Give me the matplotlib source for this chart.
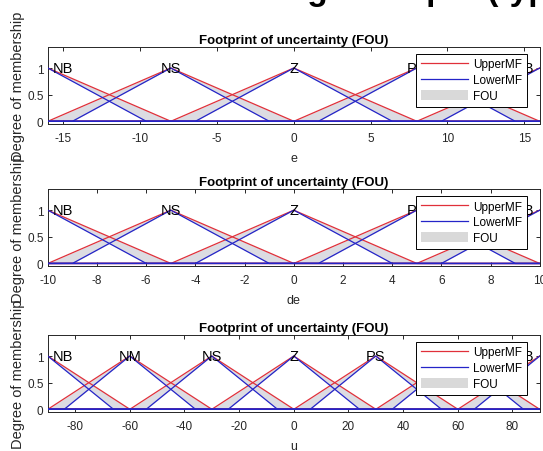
import numpy as np
import matplotlib
matplotlib.use("Agg")
import matplotlib.pyplot as plt
from matplotlib.lines import Line2D
from matplotlib.patches import Patch

plt.rcParams['font.family'] = ['Liberation Sans', 'DejaVu Sans']
plt.rcParams['axes.unicode_minus'] = False

# --- data: interval type-2 triangular MFs (center, upper half-width, lower half-width)
e_centers = [-16, -8, 0, 8, 16]
e_names = ['NB', 'NS', 'Z', 'PS', 'PB']
e_upper_w = 8
e_lower_w = 6.4
e_ticks = [-15, -10, -5, 0, 5, 10, 15]

de_centers = [-10, -5, 0, 5, 10]
de_names = ['NB', 'NS', 'Z', 'PS', 'PB']
de_upper_w = 5
de_lower_w = 4
de_ticks = [-10, -8, -6, -4, -2, 0, 2, 4, 6, 8, 10]

u_centers = [-90, -60, -30, 0, 30, 60, 90]
u_names = ['NB', 'NM', 'NS', 'Z', 'PS', 'PM', 'PB']
u_upper_w = 30
u_lower_w = 24
u_ticks = [-80, -60, -40, -20, 0, 20, 40, 60, 80]

RED = '#e0303a'
BLUE = '#2424c8'
FOU_C = '#dcdce2'
AX_C = '#262626'


def tri(x, c, w):
    return np.interp(x, [c - w, c, c + w], [0, 1, 0])


def draw_panel(ax, centers, names, uw, lw, ticks, xlab):
    xmin, xmax = centers[0], centers[-1]
    span = xmax - xmin
    x = np.linspace(xmin, xmax, 3001)
    for c, name in zip(centers, names):
        up = tri(x, c, uw)
        lo = tri(x, c, lw)
        ax.fill_between(x, lo, up, color=FOU_C, lw=0, zorder=1)
        ax.plot(x, up, color=RED, lw=0.9, zorder=2)
        ax.plot(x, lo, color=BLUE, lw=0.9, zorder=3)
        # edge labels are pulled a little inside the axes
        tx = c
        if c == xmin:
            tx = c + 0.03 * span
        elif c == xmax:
            tx = c - 0.03 * span
        ax.text(tx, 1.0, name, ha='center', va='center', fontsize=10.5,
                clip_on=True, zorder=3.5)
    ax.set_xlim(xmin, xmax)
    ax.set_ylim(-0.05, 1.4)
    ax.set_xticks(ticks)
    ax.set_yticks([0, 0.5, 1])
    ax.set_yticklabels(['0', '0.5', '1'])
    ax.tick_params(direction='in', top=True, right=True, length=3,
                   width=0.7, labelsize=8.5, colors=AX_C)
    ax.tick_params(axis='x', pad=6)
    ax.tick_params(axis='y', pad=3)
    for s in ax.spines.values():
        s.set_linewidth(0.7)
        s.set_color(AX_C)
    ax.set_xlabel(xlab, fontsize=9, labelpad=5.5, color=AX_C)
    ax.set_ylabel('Degree of membership', fontsize=10.5, color=AX_C)
    ax.yaxis.set_label_coords(-0.047, 0.5)
    ax.set_title('Footprint of uncertainty (FOU)', fontsize=9.5,
                 fontweight='bold', pad=2.5)
    handles = [Line2D([], [], color=RED, lw=0.9),
               Line2D([], [], color=BLUE, lw=0.9),
               Patch(facecolor='#d9d9d9', edgecolor='none')]
    leg = ax.legend(handles, ['UpperMF', 'LowerMF', 'FOU'], loc='upper right',
                    bbox_to_anchor=(0.974, 0.91), fontsize=8.5, frameon=True,
                    fancybox=False, framealpha=1, edgecolor='black',
                    handlelength=4.0, handleheight=0.9, handletextpad=0.4,
                    labelspacing=0.32, borderpad=0.4, borderaxespad=0)
    leg.get_frame().set_linewidth(0.7)
    leg.set_zorder(10)


fig = plt.figure(figsize=(5.43, 4.52), dpi=100)
left, width, height = 0.088, 0.906, 0.171
ax1 = fig.add_axes([left, 0.7235, width, height])
ax2 = fig.add_axes([left, 0.409, width, height])
ax3 = fig.add_axes([left, 0.0863, width, height])

draw_panel(ax1, e_centers, e_names, e_upper_w, e_lower_w, e_ticks, 'e')
draw_panel(ax2, de_centers, de_names, de_upper_w, de_lower_w, de_ticks, 'de')
draw_panel(ax3, u_centers, u_names, u_upper_w, u_lower_w, u_ticks, 'u')

# cut-off heading above the panels (only descenders show)
fig.text(0.45, 0.999, 'Range of input (type)', fontsize=24, fontweight='bold',
         ha='left', va='baseline')

fig.savefig('out.png', dpi=100)
